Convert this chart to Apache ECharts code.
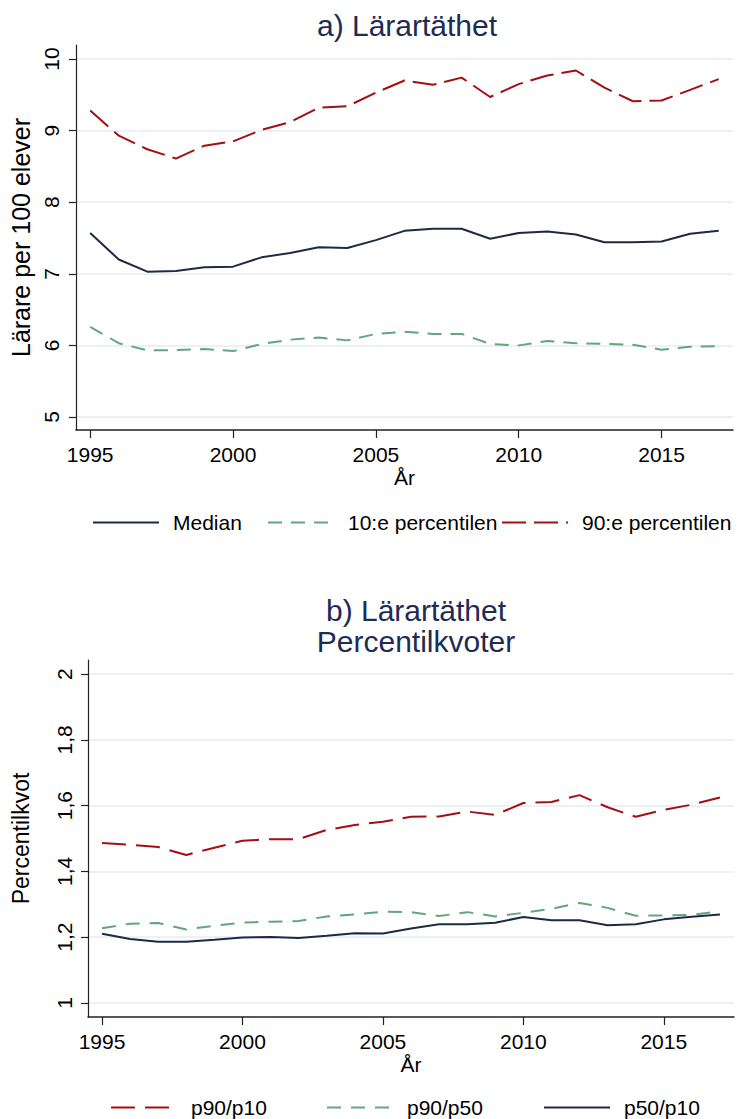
<!DOCTYPE html>
<html><head><meta charset="utf-8">
<script src="https://cdn.jsdelivr.net/npm/echarts@6/dist/echarts.min.js"></script>
<style>html,body{margin:0;padding:0;background:#fff}#c{width:741px;height:1119px}</style>
</head><body><div id="c"></div>
<script>
const years = [1995,1996,1997,1998,1999,2000,2001,2002,2003,2004,2005,2006,2007,2008,2009,2010,2011,2012,2013,2014,2015,2016,2017];
const median = [7.57,7.20,7.03,7.04,7.09,7.10,7.23,7.29,7.37,7.36,7.47,7.60,7.63,7.63,7.49,7.57,7.59,7.55,7.44,7.44,7.45,7.56,7.60];
const p10 = [6.26,6.03,5.93,5.935,5.95,5.92,6.02,6.08,6.11,6.07,6.16,6.19,6.16,6.16,6.02,6.00,6.06,6.03,6.02,6.01,5.94,5.98,5.99];
const p90 = [9.28,8.93,8.74,8.61,8.79,8.85,9.01,9.12,9.32,9.34,9.53,9.70,9.64,9.74,9.47,9.65,9.77,9.84,9.60,9.41,9.42,9.57,9.72];
const ratio9010 = [1.486,1.481,1.474,1.450,1.472,1.493,1.498,1.498,1.526,1.541,1.551,1.566,1.567,1.582,1.572,1.608,1.611,1.632,1.595,1.566,1.587,1.603,1.625];
const ratio9050 = [1.227,1.241,1.243,1.223,1.235,1.244,1.247,1.249,1.263,1.269,1.277,1.276,1.264,1.276,1.263,1.274,1.286,1.304,1.289,1.265,1.266,1.268,1.278];
const ratio5010 = [1.210,1.194,1.186,1.186,1.192,1.199,1.200,1.197,1.204,1.212,1.211,1.226,1.239,1.239,1.244,1.261,1.251,1.251,1.236,1.239,1.254,1.262,1.269];
const xTicks = [1995,2000,2005,2010,2015];
const yTicksA = [5,6,7,8,9,10];
const yTicksB = [1,1.2,1.4,1.6,1.8,2];
const namesA = ['Median','10:e percentilen','90:e percentilen'];
const namesB = ['p90/p10','p90/p50','p50/p10'];

const FONT = '"Liberation Sans", Arial, Helvetica, sans-serif';
const NAVY = '#1d2a45', GREEN = '#62a67f', RED = '#a30f12';
const GRID = '#e6eef1';

function pairs(arr){ return years.map((y,i)=>[y,arr[i]]); }

function xAxisCfg(idx){
  return {
    type:'value', gridIndex:idx, min:1994.5, max:2017.5,
    name:'År', nameLocation:'middle', nameGap:37,
    nameTextStyle:{fontSize:21, color:'#000', fontFamily:FONT},
    axisLine:{show:true, onZero:false, lineStyle:{color:'#222', width:1.5}},
    axisTick:{show:true, customValues:xTicks, length:8, lineStyle:{color:'#222', width:1.2}},
    axisLabel:{customValues:xTicks, fontSize:21, color:'#000', margin:14, fontFamily:FONT, formatter:v=>String(v)},
    splitLine:{show:false}
  };
}
function yAxisCfg(idx, min, max, ticks, name, gap, fmt, margin, nameSize){
  return {
    type:'value', gridIndex:idx, min:min, max:max,
    name:name, nameLocation:'middle', nameGap:gap,
    nameTextStyle:{fontSize:nameSize, color:'#000', fontFamily:FONT},
    axisLine:{show:true, onZero:false, lineStyle:{color:'#222', width:1.2}},
    axisTick:{show:true, customValues:ticks, length:7, lineStyle:{color:'#222', width:1.2}},
    axisLabel:{customValues:ticks, rotate:90, fontSize:21, color:'#000', margin:margin, fontFamily:FONT, formatter:fmt},
    splitLine:{show:true, lineStyle:{color:GRID, width:1.5}}
  };
}
function legendItem(name, left, top){
  return {
    data:[name], left:left, top:top, itemWidth:66, itemHeight:14, itemGap:0,
    itemStyle:{color:'rgba(0,0,0,0)', borderColor:'rgba(0,0,0,0)', borderWidth:0},
    textStyle:{fontSize:21, color:'#000', fontFamily:FONT, padding:[0,0,0,9]},
    selectedMode:false
  };
}

const chart = echarts.init(document.getElementById('c'), null, {renderer:'svg'});
chart.setOption({
  animation:false,
  backgroundColor:'#fff',
  title:[
    {text:'a) Lärartäthet', left:402, top:5, textAlign:'center',
     textStyle:{fontSize:30, fontWeight:'normal', color:'#1e2b54', fontFamily:FONT}},
    {text:'b) Lärartäthet\nPercentilkvoter', left:411, top:590, textAlign:'center',
     textStyle:{fontSize:30, fontWeight:'normal', color:'#1e2b54', fontFamily:FONT, lineHeight:31}}
  ],
  grid:[
    {left:71, right:8, top:45, height:385},
    {left:88, right:7, top:660, height:357}
  ],
  legend:[
    legendItem(namesA[0], 87, 507),
    legendItem(namesA[1], 262, 507),
    legendItem(namesA[2], 496, 507),
    legendItem(namesB[0], 105, 1092),
    legendItem(namesB[1], 321, 1092),
    legendItem(namesB[2], 538, 1092)
  ],
  xAxis:[xAxisCfg(0), xAxisCfg(1)],
  yAxis:[
    yAxisCfg(0, 4.818, 10.196, yTicksA, 'Lärare per 100 elever', 37, v=>String(v), 14, 25),
    yAxisCfg(1, 0.957, 2.043, yTicksB, 'Percentilkvot', 56, v=>String(Math.round(v*10)/10).replace('.',','), 13, 23)
  ],
  series:[
    {name:namesA[0], type:'line', xAxisIndex:0, yAxisIndex:0, data:pairs(median), symbol:'none',
     lineStyle:{color:NAVY, width:2}, itemStyle:{color:NAVY}},
    {name:namesA[1], type:'line', xAxisIndex:0, yAxisIndex:0, data:pairs(p10), symbol:'none',
     lineStyle:{color:GREEN, width:2, type:[14,9]}, itemStyle:{color:GREEN}},
    {name:namesA[2], type:'line', xAxisIndex:0, yAxisIndex:0, data:pairs(p90), symbol:'none',
     lineStyle:{color:RED, width:2, type:[24,8]}, itemStyle:{color:RED}},
    {name:namesB[0], type:'line', xAxisIndex:1, yAxisIndex:1, data:pairs(ratio9010), symbol:'none',
     lineStyle:{color:RED, width:2, type:[24,10]}, itemStyle:{color:RED}},
    {name:namesB[1], type:'line', xAxisIndex:1, yAxisIndex:1, data:pairs(ratio9050), symbol:'none',
     lineStyle:{color:GREEN, width:2, type:[14,10]}, itemStyle:{color:GREEN}},
    {name:namesB[2], type:'line', xAxisIndex:1, yAxisIndex:1, data:pairs(ratio5010), symbol:'none',
     lineStyle:{color:NAVY, width:2}, itemStyle:{color:NAVY}}
  ]
});
</script></body></html>
